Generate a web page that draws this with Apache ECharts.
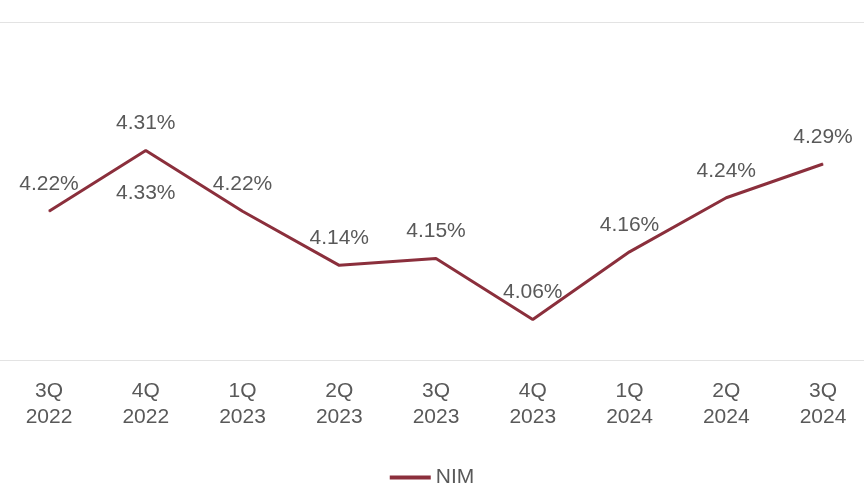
<!DOCTYPE html>
<html>
<head>
<meta charset="utf-8">
<script src="https://cdn.jsdelivr.net/npm/echarts@6/dist/echarts.min.js"></script>
<style>
	html, body { margin: 0; padding: 0; background: #fff; }
	#chart { width: 864px; height: 485px; }
</style>
</head>
<body>
<div id="chart"></div>
<script>
// 季度
var quarters = ['3Q\n2022', '4Q\n2022', '1Q\n2023', '2Q\n2023', '3Q\n2023', '4Q\n2023', '1Q\n2024', '2Q\n2024', '3Q\n2024'];
// NIM 数值 (%)
var nimValues = [4.22, 4.31, 4.22, 4.14, 4.15, 4.06, 4.16, 4.24, 4.29];
// 4Q 2022 下方的额外标签
var extraLabels = [null, 4.33, null, null, null, null, null, null, null];

var lineColor = '#8B2F3C';
var textColor = '#595959';
var fontFamily = '"Liberation Sans", Arial, sans-serif';

var myChart = echarts.init(document.getElementById('chart'));

var option = {
	animation: false,
	grid: [{
		// 折线所在区域
		left: 49,
		right: 41,
		top: 22,
		bottom: 125
	}, {
		// 整宽网格线
		left: 0,
		right: 0,
		top: 22,
		bottom: 125
	}],
	legend: {
		data: [{ name: 'NIM', icon: 'rect' }],
		top: 462,
		left: 'center',
		itemWidth: 41,
		itemHeight: 4,
		itemGap: 9,
		textStyle: {
			color: textColor,
			fontSize: 21,
			fontFamily: fontFamily
		}
	},
	xAxis: [{
		type: 'category',
		gridIndex: 0,
		boundaryGap: false,
		data: quarters,
		axisLine: { show: false },
		axisTick: { show: false },
		axisLabel: {
			color: textColor,
			fontSize: 21,
			lineHeight: 26,
			margin: 18,
			fontFamily: fontFamily
		}
	}, {
		type: 'value',
		gridIndex: 1,
		show: false
	}],
	yAxis: [{
		type: 'value',
		gridIndex: 0,
		min: 4.0,
		max: 4.5,
		interval: 0.5,
		show: false
	}, {
		type: 'value',
		gridIndex: 1,
		min: 4.0,
		max: 4.5,
		interval: 0.5,
		axisLabel: { show: false },
		axisLine: { show: false },
		axisTick: { show: false },
		splitLine: { lineStyle: { color: '#e3e3e3', width: 1 } }
	}],
	series: [{
		name: 'NIM',
		type: 'line',
		data: nimValues,
		symbol: 'circle',
		symbolSize: 1,
		showSymbol: true,
		itemStyle: { color: lineColor },
		lineStyle: { color: lineColor, width: 3 },
		label: {
			show: true,
			position: 'top',
			distance: 16,
			color: textColor,
			fontSize: 21,
			fontFamily: fontFamily,
			formatter: function (p) {
				return p.value.toFixed(2) + '%';
			}
		}
	}, {
		name: 'extra',
		type: 'line',
		data: nimValues.map(function (v, i) { return extraLabels[i] == null ? null : v; }),
		symbol: 'circle',
		symbolSize: 1,
		itemStyle: { color: 'rgba(0,0,0,0)' },
		lineStyle: { width: 0, color: 'rgba(0,0,0,0)' },
		silent: true,
		label: {
			show: true,
			position: 'bottom',
			distance: 32,
			color: textColor,
			fontSize: 21,
			fontFamily: fontFamily,
			formatter: function (p) {
				return extraLabels[p.dataIndex].toFixed(2) + '%';
			}
		}
	}]
};

myChart.setOption(option);
</script>
</body>
</html>
